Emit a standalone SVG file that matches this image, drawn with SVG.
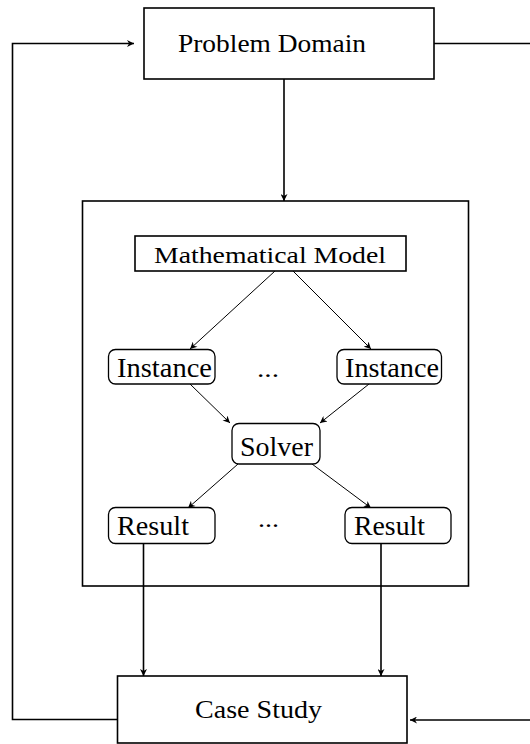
<svg xmlns="http://www.w3.org/2000/svg" width="530" height="744" viewBox="0 0 530 744">
<defs>
<style>
.box{fill:#fff;stroke:#000;stroke-width:1.6}
.frame{fill:none;stroke:#000;stroke-width:1.6}
.rbox{fill:#fff;stroke:#000;stroke-width:1.3}
.t{font-family:"Liberation Serif","Times New Roman",serif;fill:#000}
.c{fill:none;stroke:#000;stroke-width:1.6}
.d{fill:none;stroke:#000;stroke-width:1}
</style>
<marker id="ah" viewBox="0 0 10 10" refX="10" refY="5" markerWidth="8" markerHeight="7" markerUnits="userSpaceOnUse" orient="auto">
<path d="M0,0 L10,5 L0,10 L3,5 Z" fill="#000"/>
</marker>
<marker id="ahs" viewBox="0 0 10 10" refX="10" refY="5" markerWidth="8" markerHeight="7" markerUnits="userSpaceOnUse" orient="auto">
<path d="M0,0 L10,5 L0,10 L3,5 Z" fill="#000"/>
</marker>
</defs>
<rect width="530" height="744" fill="#fff"/>
<g id="container">
<rect class="frame" x="82.5" y="201" width="386" height="385"/>
</g>
<g id="connectors">
<polyline class="c" points="117,719.5 12.5,719.5 12.5,43.5 134,43.5" marker-end="url(#ah)"/>
<polyline class="c" points="434,43.5 531,43.5"/>
<polyline class="c" points="531,720 410,720" marker-end="url(#ah)"/>
<line class="c" x1="284" y1="79" x2="284" y2="201" marker-end="url(#ah)"/>
<line class="d" x1="275" y1="271" x2="190" y2="349" marker-end="url(#ahs)"/>
<line class="d" x1="293" y1="271" x2="371" y2="349" marker-end="url(#ahs)"/>
<line class="d" x1="190" y1="384" x2="230" y2="423" marker-end="url(#ahs)"/>
<line class="d" x1="369" y1="384" x2="320" y2="423" marker-end="url(#ahs)"/>
<line class="d" x1="238" y1="464" x2="188" y2="508" marker-end="url(#ahs)"/>
<line class="d" x1="312" y1="464" x2="371" y2="508" marker-end="url(#ahs)"/>
<line class="c" x1="143.5" y1="543" x2="143.5" y2="676" marker-end="url(#ah)"/>
<line class="c" x1="381" y1="543" x2="381" y2="676" marker-end="url(#ah)"/>
</g>
<g id="problem-domain">
<rect class="box" x="144" y="8" width="290" height="71"/>
<text class="t" x="178" y="52" font-size="26" textLength="188" lengthAdjust="spacingAndGlyphs">Problem Domain</text>
</g>
<g id="mathematical-model">
<rect class="box" x="135" y="236" width="271" height="35"/>
<text class="t" x="154" y="263" font-size="24" textLength="232" lengthAdjust="spacingAndGlyphs">Mathematical Model</text>
</g>
<g id="instance-1">
<rect class="rbox" x="108.5" y="349.5" width="106.5" height="34.5" rx="7"/>
<text class="t" x="117" y="377" font-size="27" textLength="95" lengthAdjust="spacingAndGlyphs">Instance</text>
</g>
<g id="instance-dots">
<text class="t" x="257" y="377" font-size="24" textLength="22" lengthAdjust="spacingAndGlyphs">...</text>
</g>
<g id="instance-2">
<rect class="rbox" x="337" y="349.5" width="104.5" height="34.5" rx="7"/>
<text class="t" x="345" y="377" font-size="27" textLength="94" lengthAdjust="spacingAndGlyphs">Instance</text>
</g>
<g id="solver">
<rect class="rbox" x="232" y="423.5" width="88" height="40.5" rx="7"/>
<text class="t" x="240" y="456" font-size="27" textLength="73" lengthAdjust="spacingAndGlyphs">Solver</text>
</g>
<g id="result-1">
<rect class="rbox" x="108.5" y="507.5" width="106.5" height="36" rx="7"/>
<text class="t" x="117" y="535" font-size="27" textLength="72" lengthAdjust="spacingAndGlyphs">Result</text>
</g>
<g id="result-dots">
<text class="t" x="258" y="527" font-size="24" textLength="21" lengthAdjust="spacingAndGlyphs">...</text>
</g>
<g id="result-2">
<rect class="rbox" x="345" y="507.5" width="106" height="36" rx="7"/>
<text class="t" x="354" y="535" font-size="27" textLength="71" lengthAdjust="spacingAndGlyphs">Result</text>
</g>
<g id="case-study">
<rect class="box" x="117.5" y="676" width="289.5" height="67"/>
<text class="t" x="195" y="718" font-size="25" textLength="127" lengthAdjust="spacingAndGlyphs">Case Study</text>
</g>
</svg>
